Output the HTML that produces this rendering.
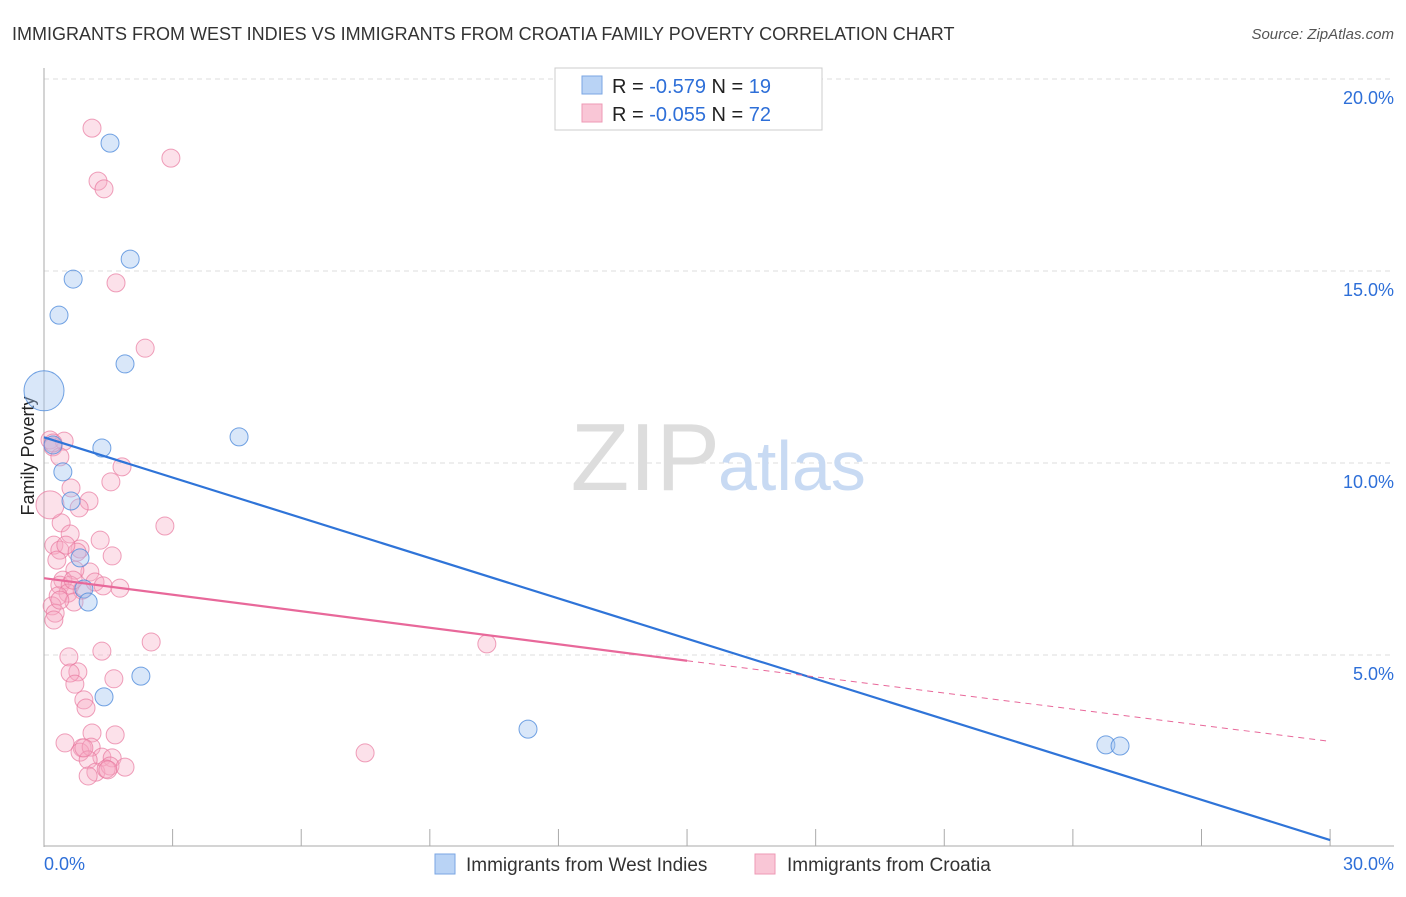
<!DOCTYPE html>
<html><head><meta charset="utf-8"><style>
body{margin:0;background:#fff;font-family:"Liberation Sans",sans-serif}
svg text{font-family:"Liberation Sans",sans-serif}
</style></head><body>
<svg width="1406" height="892">
<text x="12" y="40" font-size="18" fill="#333">IMMIGRANTS FROM WEST INDIES VS IMMIGRANTS FROM CROATIA FAMILY POVERTY CORRELATION CHART</text>
<text x="1394" y="39" font-size="15" fill="#555" font-style="italic" text-anchor="end">Source: ZipAtlas.com</text>
<text x="34" y="456" font-size="18" fill="#222" text-anchor="middle" transform="rotate(-90 34 456)">Family Poverty</text>
<g id="grid"></g>
<text x="720" y="490" font-size="96" fill="#ddd" text-anchor="end" font-family="Liberation Serif">ZIP</text>
<text x="718" y="490" font-size="70" fill="#c8daf3">atlas</text>
<g id="pts"></g>
<g id="lines"></g>
<rect x="555" y="68" width="267" height="62" fill="#fff" stroke="#ccc"/>
<rect x="582" y="76" width="20" height="18" fill="#b9d3f5" stroke="#7aa6e3"/>
<rect x="582" y="104" width="20" height="18" fill="#f9c6d6" stroke="#ee99b5"/>
<text x="612" y="93" font-size="20" fill="#222">R = <tspan fill="#2e6fd8">-0.579</tspan>   N = <tspan fill="#2e6fd8">19</tspan></text>
<text x="612" y="121" font-size="20" fill="#222">R = <tspan fill="#2e6fd8">-0.055</tspan>   N = <tspan fill="#2e6fd8">72</tspan></text>
<text x="44" y="870" font-size="18" fill="#2e6fd8">0.0%</text>
<text x="1394" y="870" font-size="18" fill="#2e6fd8" text-anchor="end">30.0%</text>
<rect x="435" y="854" width="20" height="20" fill="#b9d3f5" stroke="#7aa6e3"/>
<text x="466" y="871" font-size="19" fill="#333">Immigrants from West Indies</text>
<rect x="755" y="854" width="20" height="20" fill="#f9c6d6" stroke="#ee99b5"/>
<text x="787" y="871" font-size="19" fill="#333">Immigrants from Croatia</text>
</svg>
<script>
const yTicks=[5,10,15,20];
const xTickVals=[0,3,6,9,12,15,18,21,24,27,30];
const blueX=[0,1.54,2.01,0.68,0.35,1.89,4.55,1.35,0.44,0.63,0.84,0.93,1.03,2.26,1.40,11.29,24.77,25.10,0.21];
const blueY=[11.88,18.33,15.31,14.79,13.85,12.58,10.68,10.39,9.77,9.01,7.53,6.72,6.38,4.45,3.91,3.07,2.66,2.63,10.47];
const blueR=[20,9,9,9,9,9,9,9,9,9,9,9,9,9,9,9,9,9,9];
const pinkX=[1.12,2.96,1.26,1.40,1.68,2.36,0.14,0.47,0.21,0.37,1.82,1.56,1.05,0.63,0.82,0.40,0.23,0.61,1.31,0.84,1.59,0.37,0.77,2.82,0.14,0.30,1.07,0.72,0.44,1.19,1.38,1.77,0.37,0.61,0.89,0.56,0.33,0.70,0.19,0.26,0.23,2.50,10.33,1.35,0.58,0.79,0.61,0.72,1.63,0.93,0.98,7.49,1.12,1.66,0.49,0.89,0.84,1.10,1.35,1.03,1.59,1.21,1.03,1.54,1.45,1.89,1.49,0.93,0.21,0.37,0.51,0.68];
const pinkY=[18.72,17.94,17.34,17.14,14.69,12.99,10.60,10.57,10.42,10.16,9.90,9.51,9.01,9.35,8.83,8.44,7.86,8.15,7.99,7.76,7.58,7.73,7.68,8.36,8.91,7.47,7.16,7.21,6.95,6.90,6.80,6.74,6.82,6.82,6.69,6.61,6.54,6.38,6.28,6.09,5.91,5.34,5.29,5.10,4.95,4.56,4.53,4.24,4.38,3.83,3.62,2.45,2.97,2.92,2.71,2.58,2.47,2.60,2.34,2.27,2.32,1.95,1.85,2.11,2.03,2.08,2.01,2.58,10.52,6.43,7.86,6.95];
const blueLine=[[0,10.67],[30,0.18]];
const pinkLine=[[0,7.0],[15,4.85],[30,2.75]];
const X=v=>44+v*42.87, Y=v=>847-v*38.4;
const NS="http://www.w3.org/2000/svg";
function mk(t,a,p){const e=document.createElementNS(NS,t);for(const k in a)e.setAttribute(k,a[k]);p.appendChild(e);return e;}
const grid=document.getElementById('grid');
yTicks.forEach(v=>{
 const l=mk('line',{x1:44,x2:1394,y1:Y(v),y2:Y(v),stroke:'#ddd','stroke-dasharray':'5,4'},grid);
 
 
 const t=mk('text',{x:1394,y:Y(v)+25,'font-size':18,fill:'#2e6fd8','text-anchor':'end'},grid);
 t.textContent=v.toFixed(1)+'%';
 
 
});
const ax=mk('line',{x1:44,x2:44,y1:68,y2:847,stroke:'#aaa'},grid);


const bx=mk('line',{x1:44,x2:1394,y1:846,y2:846,stroke:'#aaa'},grid);


xTickVals.forEach(v=>{
 const l=mk('line',{x1:X(v),x2:X(v),y1:829,y2:846,stroke:'#aaa'},grid);
 
 
});
const pts=document.getElementById('pts');
pinkX.forEach((v,i)=>{
 const c=mk('circle',{cx:X(v),cy:Y(pinkY[i]),r:(i==24?14:9),fill:'rgba(246,170,195,0.35)',stroke:'rgba(232,120,158,0.7)','stroke-width':1},pts);
 
 
});
blueX.forEach((v,i)=>{
 const c=mk('circle',{cx:X(v),cy:Y(blueY[i]),r:blueR[i],fill:'rgba(160,195,240,0.4)',stroke:'rgba(80,140,220,0.8)','stroke-width':1},pts);
 
 
});
const ln=document.getElementById('lines');
const b=mk('line',{x1:X(blueLine[0][0]),y1:Y(blueLine[0][1]),x2:X(blueLine[1][0]),y2:Y(blueLine[1][1]),stroke:'#2f74d8','stroke-width':2.2},ln);


const p1=mk('line',{x1:X(pinkLine[0][0]),y1:Y(pinkLine[0][1]),x2:X(pinkLine[1][0]),y2:Y(pinkLine[1][1]),stroke:'#e8689a','stroke-width':2.2},ln);


const p2=mk('line',{x1:X(pinkLine[1][0]),y1:Y(pinkLine[1][1]),x2:X(pinkLine[2][0]),y2:Y(pinkLine[2][1]),stroke:'#e8689a','stroke-width':1,'stroke-dasharray':'6,5'},ln);


</script>
</body></html>
